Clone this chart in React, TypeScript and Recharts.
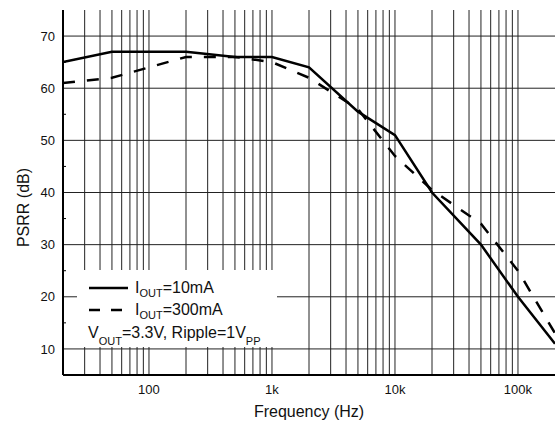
import React from "react";
import { LineChart, Line, XAxis, YAxis, CartesianGrid, Legend, Label } from "recharts";

// PSRR vs frequency
const freqHz = [20, 50, 200, 500, 1000, 2000, 5000, 10000, 20000, 50000, 100000, 200000];
const psrr10mA = [65, 67, 67, 66, 66, 64, 55.5, 51, 40, 30, 20, 11];
const psrr300mA = [61, 62, 66, 66, 65, 62, 56, 47, 40.5, 34, 25, 13];

const xTicks = [100, 1000, 10000, 100000];
const xTickLabels = ["100", "1k", "10k", "100k"];
const yTicks = [10, 15, 20, 25, 30, 35, 40, 45, 50, 55, 60, 65, 70];
const yMinorTicks = [15, 25, 35, 45, 55, 65];
const yGrid = [10, 20, 30, 40, 50, 60, 70];
const gridMantissas = [1, 2, 3, 4, 5, 6, 7, 8, 9];
const gridDecades = [10, 100, 1000, 10000, 100000];
const xGrid = gridDecades
  .flatMap((d) => gridMantissas.map((m) => m * d))
  .filter((f) => f > 20 && f < 200000);

const data = freqHz.map((f, i) => ({ f, a: psrr10mA[i], b: psrr300mA[i] }));

const font = "'Liberation Sans', Arial, sans-serif";

const LeftTick = (props: any) => {
  const { x, y, payload } = props;
  const v = payload.value;
  if (v % 10 === 0) {
    return (
      <text x={x} y={y} dy="0.36em" textAnchor="end" fontSize={13} fontFamily={font} fill="#111">
        {v}
      </text>
    );
  }
  return <line x1={x + 8} x2={x + 11} y1={y} y2={y} stroke="#000" strokeWidth={1} />;
};

const RightTick = (props: any) => {
  const { x, y } = props;
  return <line x1={x - 3} x2={x} y1={y} y2={y} stroke="#000" strokeWidth={1} />;
};

const YTitle = (props: any) => {
  const { viewBox } = props;
  const cx = viewBox.x + 25;
  const cy = viewBox.y + viewBox.height / 2 + 15;
  return (
    <text
      x={cx}
      y={cy}
      transform={`rotate(-90 ${cx} ${cy})`}
      textAnchor="middle"
      dominantBaseline="middle"
      fontSize={16}
      fontFamily={font}
      fill="#111"
    >
      PSRR (dB)
    </text>
  );
};

const legendRows = [
  { label: "I", sub: "OUT", rest: "=10mA", dash: undefined },
  { label: "I", sub: "OUT", rest: "=300mA", dash: "11 11" },
];

const renderLegend = () => (
  <svg width={200} height={77} style={{ display: "block", background: "#fff" }}>
    {legendRows.map((r, i) => (
      <g key={i}>
        <line
          x1={12}
          x2={r.dash ? 45 : 51}
          y1={18 + i * 22}
          y2={18 + i * 22}
          stroke="#000"
          strokeWidth={2.5}
          strokeDasharray={r.dash}
        />
        <text x={58} y={23 + i * 22} fontSize={16} fontFamily={font} fill="#111">
          {r.label}
          <tspan fontSize={11} dy={3.5}>{r.sub}</tspan>
          <tspan dy={-3.5}>{r.rest}</tspan>
        </text>
      </g>
    ))}
    <text x={11} y={68} fontSize={16} fontFamily={font} fill="#111">
      V
      <tspan fontSize={11} dy={7}>OUT</tspan>
      <tspan dy={-7}>=3.3V, Ripple=1V</tspan>
      <tspan fontSize={11} dy={7}>PP</tspan>
    </text>
  </svg>
);

export default function App() {
  return (
    <div style={{ position: "absolute", left: 0, top: 0 }}>
      <LineChart
        width={559}
        height={425}
        data={data}
        margin={{ top: 10, right: 4, bottom: 0, left: 0 }}
      >
        <CartesianGrid
          horizontalValues={yGrid}
          verticalValues={xGrid}
          stroke="#222"
          strokeWidth={1}
        />
        <XAxis
          dataKey="f"
          type="number"
          scale="log"
          domain={[20, 200000]}
          allowDataOverflow
          ticks={xTicks}
          interval={0}
          tickFormatter={(v: number) => xTickLabels[xTicks.indexOf(v)]}
          tickLine={false}
          tickSize={0}
          tickMargin={10}
          height={50}
          axisLine={{ stroke: "#000", strokeWidth: 2 }}
          tick={{ fontSize: 13, fontFamily: font, fill: "#111" }}
        >
          <Label value="Frequency (Hz)" position="insideBottom" offset={8} fontSize={16} fontFamily={font} fill="#111" />
        </XAxis>
        <XAxis
          xAxisId="top"
          orientation="top"
          type="number"
          scale="log"
          domain={[20, 200000]}
          allowDataOverflow
          height={0}
          tick={false}
          tickLine={false}
          axisLine={{ stroke: "#000", strokeWidth: 2 }}
        />
        <YAxis
          type="number"
          domain={[5, 75]}
          allowDataOverflow
          ticks={yTicks}
          interval={0}
          width={63}
          tickLine={false}
          tickSize={0}
          tickMargin={8}
          tick={<LeftTick />}
          axisLine={{ stroke: "#000", strokeWidth: 2 }}
        >
          <Label content={<YTitle />} />
        </YAxis>
        <YAxis
          yAxisId="right"
          orientation="right"
          type="number"
          domain={[5, 75]}
          allowDataOverflow
          ticks={yMinorTicks}
          interval={0}
          width={0}
          tickLine={false}
          tickSize={0}
          tickMargin={0}
          tick={<RightTick />}
          axisLine={{ stroke: "#000", strokeWidth: 2 }}
        />
        <Legend
          layout="vertical"
          align="center"
          verticalAlign="middle"
          wrapperStyle={{ left: 77, top: 270, width: 200, height: 77 }}
          content={renderLegend}
        />
        <Line
          dataKey="a"
          name="IOUT=10mA"
          type="linear"
          stroke="#000"
          strokeWidth={2.5}
          dot={false}
          isAnimationActive={false}
        />
        <Line
          dataKey="b"
          name="IOUT=300mA"
          type="linear"
          stroke="#000"
          strokeWidth={2.5}
          strokeDasharray="12 12"
          dot={false}
          isAnimationActive={false}
        />
      </LineChart>
    </div>
  );
}
